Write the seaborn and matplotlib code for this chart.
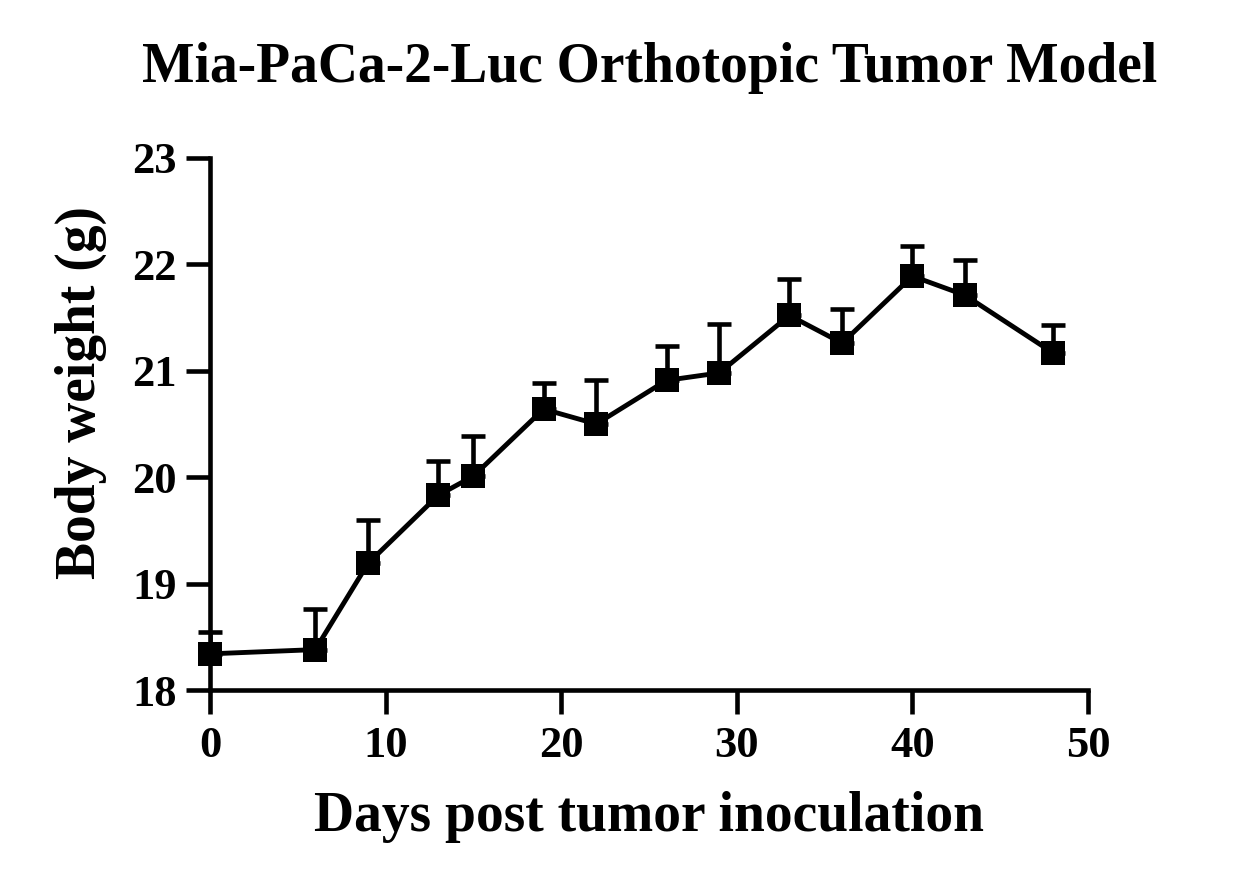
import matplotlib
matplotlib.use("Agg")
import matplotlib.pyplot as plt
import numpy as np
import pandas as pd
import seaborn as sns

days = [0, 6, 9, 13, 15, 19, 22, 26, 29, 33, 36, 40, 43, 48]
weight = [18.34, 18.38, 19.19, 19.83, 20.01, 20.64, 20.50, 20.91, 20.98, 21.52, 21.26, 21.89, 21.71, 21.17]
upper = [18.55, 18.76, 19.60, 20.15, 20.39, 20.89, 20.91, 21.23, 21.44, 21.86, 21.58, 22.17, 22.04, 21.43]

df = pd.DataFrame({"day": days, "weight": weight})
err = np.array(upper) - np.array(weight)

sns.set_style("ticks")
plt.rcParams["font.family"] = ["Liberation Serif", "DejaVu Serif"]
plt.rcParams["font.weight"] = "bold"
plt.rcParams["text.color"] = "black"
plt.rcParams["axes.labelcolor"] = "black"
plt.rcParams["xtick.color"] = "black"
plt.rcParams["ytick.color"] = "black"
plt.rcParams["axes.edgecolor"] = "black"

fig = plt.figure(figsize=(12.38, 8.85), dpi=100)
ax = fig.add_axes([0.1696, 0.2203, 0.7092, 0.6012])

ax.errorbar(days, weight, yerr=[np.zeros(len(err)), err], fmt="none",
            ecolor="black", elinewidth=3.3, capsize=8.5, capthick=3.3, zorder=2)
sns.lineplot(data=df, x="day", y="weight", ax=ax, color="black", linewidth=3.5,
             marker="s", markersize=17, markeredgewidth=0, zorder=3)

ax.set_xlim(0, 50)
ax.set_ylim(18, 23)
ax.set_xticks([0, 10, 20, 30, 40, 50])
ax.set_yticks([18, 19, 20, 21, 22, 23])
for s in ["top", "right"]:
    ax.spines[s].set_visible(False)
for s in ["left", "bottom"]:
    ax.spines[s].set_linewidth(3.3)
ax.tick_params(axis="both", width=3.3, length=17, labelsize=32, pad=7)
ax.tick_params(axis="x", pad=9)
for lab in ax.get_xticklabels() + ax.get_yticklabels():
    lab.set_fontweight("bold")

ax.set_xlabel("Days post tumor inoculation", fontsize=40, fontweight="bold", labelpad=18)
ax.set_ylabel("Body weight (g)", fontsize=40, fontweight="bold")
ax.yaxis.set_label_coords(-0.117, 0.56)
fig.suptitle("Mia-PaCa-2-Luc Orthotopic Tumor Model", fontsize=40, fontweight="bold",
             x=0.525, y=0.952)

for line in ax.lines:
    line.set_clip_on(False)

fig.savefig("out.png", dpi=100)
